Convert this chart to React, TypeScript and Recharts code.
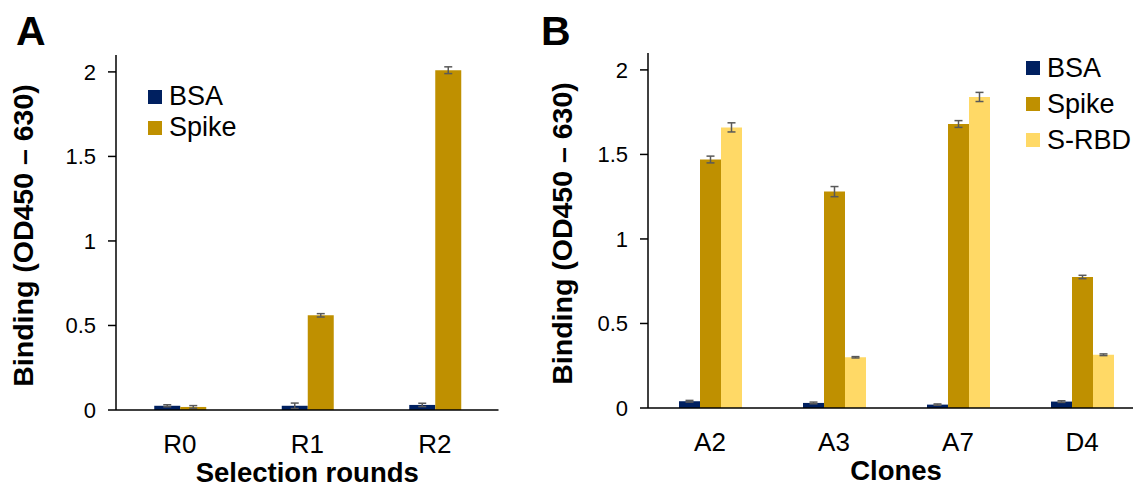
import React from 'react';
import { BarChart, Bar, XAxis, YAxis, ErrorBar, Legend, Label } from 'recharts';

// Panel A: selection rounds
const roundsCategories = ['R0', 'R1', 'R2'];
const roundsBSA = [0.025, 0.025, 0.03];
const roundsBSAErr = [0.006, 0.016, 0.01];
const roundsSpike = [0.018, 0.56, 2.01];
const roundsSpikeErr = [0.008, 0.01, 0.02];

// Panel B: clones
const clonesCategories = ['A2', 'A3', 'A7', 'D4'];
const clonesBSA = [0.04, 0.03, 0.02, 0.038];
const clonesBSAErr = [0.005, 0.005, 0.004, 0.005];
const clonesSpike = [1.47, 1.28, 1.68, 0.775];
const clonesSpikeErr = [0.02, 0.03, 0.02, 0.01];
const clonesSRBD = [1.66, 0.3, 1.84, 0.315];
const clonesSRBDErr = [0.027, 0.004, 0.027, 0.005];

const yTicks = [0, 0.5, 1, 1.5, 2];
const yTickLabels = ['0', '0.5', '1', '1.5', '2'];

const COLORS = { BSA: '#002060', Spike: '#BF9000', SRBD: '#FFD966' };
const FONT = '"Liberation Sans", Arial, Helvetica, sans-serif';

const roundsData = roundsCategories.map((c, i) => ({
  name: c,
  bsa: roundsBSA[i],
  bsaErr: roundsBSAErr[i],
  spike: roundsSpike[i],
  spikeErr: roundsSpikeErr[i],
}));

const clonesData = clonesCategories.map((c, i) => ({
  name: c,
  bsa: clonesBSA[i],
  bsaErr: clonesBSAErr[i],
  spike: clonesSpike[i],
  spikeErr: clonesSpikeErr[i],
  srbd: clonesSRBD[i],
  srbdErr: clonesSRBDErr[i],
}));

type Item = { name: string; color: string };

const LegendBox = ({ items, rowHeight }: { items: Item[]; rowHeight: number }) => (
  <div style={{ fontFamily: FONT }}>
    {items.map((it) => (
      <div key={it.name} style={{ display: 'flex', alignItems: 'center', height: rowHeight }}>
        <span style={{ display: 'inline-block', width: 14, height: 14, background: it.color, marginRight: 7 }} />
        <span style={{ fontSize: 27, color: '#000', lineHeight: 1 }}>{it.name}</span>
      </div>
    ))}
  </div>
);

const yTitle = (offset: number) => (props: any) => {
  const vb = props.viewBox || {};
  const x = vb.x + vb.width - offset;
  const y = vb.y + vb.height / 2 + 3;
  return (
    <text x={x} y={y} transform={`rotate(-90, ${x}, ${y})`} textAnchor="middle" fontSize={28.5} fontWeight="bold" fill="#000" fontFamily={FONT}>
      Binding (OD450 – 630)
    </text>
  );
};

const xTitle = (text: string) => (props: any) => {
  const vb = props.viewBox || {};
  const x = vb.x + vb.width / 2;
  const y = vb.y + 72;
  return (
    <text x={x} y={y} textAnchor="middle" fontSize={27.5} fontWeight="bold" fill="#000" fontFamily={FONT}>
      {text}
    </text>
  );
};

const axisLine = { stroke: '#000', strokeWidth: 1.5 };
const errStroke = '#595959';
const yTickStyle = { fill: '#000', fontSize: 22, fontFamily: FONT };
const xTickStyle = { fill: '#000', fontSize: 26, fontFamily: FONT };

export default function App() {
  return (
    <div style={{ position: 'fixed', left: 0, top: 0, width: 1133, height: 497, overflow: 'hidden', background: '#fff', fontFamily: FONT }}>
      <div style={{ position: 'absolute', left: 0, top: 0 }}>
        <BarChart width={520} height={497} data={roundsData} margin={{ top: 55, right: 21.5, bottom: 0, left: 0 }} barCategoryGap="30%" barGap={0}>
          <XAxis dataKey="name" height={87} fontSize={26} axisLine={axisLine} tickLine={false} tickSize={0} tickMargin={25} tick={xTickStyle} interval={0}>
            <Label content={xTitle('Selection rounds')} />
          </XAxis>
          <YAxis width={116} fontSize={22} domain={[0, 2.1]} ticks={yTicks} tickFormatter={(v: number) => yTickLabels[yTicks.indexOf(v)]} axisLine={axisLine} tickLine={axisLine} tickSize={8} tickMargin={12} tick={yTickStyle} allowDataOverflow>
            <Label content={yTitle(83)} />
          </YAxis>
          <Legend layout="vertical" verticalAlign="middle" align="center" wrapperStyle={{ left: 148, top: 81, width: 'auto' }} content={() => <LegendBox items={[{ name: 'BSA', color: COLORS.BSA }, { name: 'Spike', color: COLORS.Spike }]} rowHeight={31} />} />
          <Bar dataKey="bsa" name="BSA" fill={COLORS.BSA} isAnimationActive={false}>
            <ErrorBar dataKey="bsaErr" width={4} stroke={errStroke} strokeWidth={1.5} direction="y" />
          </Bar>
          <Bar dataKey="spike" name="Spike" fill={COLORS.Spike} isAnimationActive={false}>
            <ErrorBar dataKey="spikeErr" width={4} stroke={errStroke} strokeWidth={1.5} direction="y" />
          </Bar>
        </BarChart>
      </div>
      <div style={{ position: 'absolute', left: 530, top: 0 }}>
        <BarChart width={634} height={497} data={clonesData} margin={{ top: 53, right: 20, bottom: 0, left: 0 }} barCategoryGap="25%" barGap={0}>
          <XAxis dataKey="name" height={89} fontSize={26} axisLine={axisLine} tickLine={false} tickSize={0} tickMargin={25} tick={xTickStyle} interval={0}>
            <Label content={xTitle('Clones')} />
          </XAxis>
          <YAxis width={118} fontSize={22} domain={[0, 2.1]} ticks={yTicks} tickFormatter={(v: number) => yTickLabels[yTicks.indexOf(v)]} axisLine={axisLine} tickLine={axisLine} tickSize={8} tickMargin={12} tick={yTickStyle} allowDataOverflow>
            <Label content={yTitle(76)} />
          </YAxis>
          <Legend layout="vertical" verticalAlign="middle" align="center" wrapperStyle={{ left: 496, top: 50, width: 'auto' }} content={() => <LegendBox items={[{ name: 'BSA', color: COLORS.BSA }, { name: 'Spike', color: COLORS.Spike }, { name: 'S-RBD', color: COLORS.SRBD }]} rowHeight={36} />} />
          <Bar dataKey="bsa" name="BSA" fill={COLORS.BSA} isAnimationActive={false}>
            <ErrorBar dataKey="bsaErr" width={4} stroke={errStroke} strokeWidth={1.5} direction="y" />
          </Bar>
          <Bar dataKey="spike" name="Spike" fill={COLORS.Spike} isAnimationActive={false}>
            <ErrorBar dataKey="spikeErr" width={4} stroke={errStroke} strokeWidth={1.5} direction="y" />
          </Bar>
          <Bar dataKey="srbd" name="S-RBD" fill={COLORS.SRBD} isAnimationActive={false}>
            <ErrorBar dataKey="srbdErr" width={4} stroke={errStroke} strokeWidth={1.5} direction="y" />
          </Bar>
        </BarChart>
      </div>
      <svg width={1133} height={497} style={{ position: 'absolute', left: 0, top: 0, pointerEvents: 'none' }}>
        <text x={16} y={45} fontSize={41} fontWeight="bold" fill="#000" fontFamily={FONT}>A</text>
        <text x={541} y={45} fontSize={41} fontWeight="bold" fill="#000" fontFamily={FONT}>B</text>
      </svg>
    </div>
  );
}
